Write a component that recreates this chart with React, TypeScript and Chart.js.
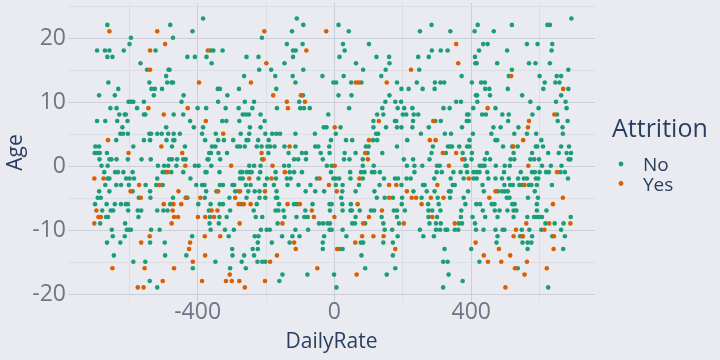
import React, { useEffect, useRef } from 'react';
import { Chart, registerables } from 'chart.js';

Chart.register(...registerables);

// ---- data (DailyRate centred, Age centred) ----
const attritionNo: [number, number][] = [
  [-664,22.08],[-595,20.08],[-472,20.08],[-599,19.08],[-694,18.08],[-671,18.08],[-658,18.08],[-616,18.08],[-523,18.08],[-664,17.08],[-649,17.08],[-567,16.08],[-548,15.08],[-485,15.08],[-482,15.08],[-492,14.08],[-661,13.08],[-541,13.08],[-489,13.08],[-476,13.08],[-472,13.08],[-632,12.08],[-535,12.08],[-525,12.08],[-504,12.08],[-688,11.08],[-642,11.08],[-528,11.08],[-602,10.08],[-595,10.08],[-588,10.08],[-557,10.08],[-447,10.08],[-655,9.08],[-637,9.08],[-577,9.08],[-629,8.08],[-613,8.08],[-610,8.08],[-557,8.08],[-553,8.08],[-470,8.08],[-694,7.08],[-670,7.08],[-635,7.08],[-605,7.08],[-492,6.08],[-620,6.08],[-626,5.08],[-618,5.08],[-604,5.08],[-541,5.08],[-536,5.08],[-518,5.08],[-505,5.08],[-486,5.08],[-470,5.08],[-452,5.08],[-638,4.08],[-557,4.08],[-539,4.08],[-491,4.08],[-471,4.08],[-468,4.08],[-699,3.08],[-688,3.08],[-588,3.08],[-475,3.08],[-480,22.08],
  [-384,23.08],[-415,21.08],[-212,20.08],[-362,18.08],[-354,18.08],[-327,18.08],[-430,17.08],[-408,17.08],[-374,17.08],[-257,17.08],[-222,17.08],[-359,16.08],[-146,16.08],[-220,15.08],[-185,15.08],[-264,14.08],[-173,14.08],[-341,12.08],[-335,12.08],[-279,12.08],[-170,12.08],[-441,11.08],[-313,11.08],[-340,10.08],[-262,10.08],[-235,10.08],[-400,9.08],[-375,9.08],[-318,9.08],[-280,9.08],[-240,9.08],[-168,9.08],[-442,8.08],[-268,8.08],[-259,8.08],[-250,8.08],[-216,8.08],[-422,7.08],[-328,7.08],[-316,7.08],[-278,7.08],[-204,7.08],[-411,6.08],[-384,6.08],[-247,6.08],[-216,6.08],[-387,5.08],[-347,5.08],[-274,5.08],[-249,5.08],[-202,5.08],[-182,5.08],[-170,5.08],[-159,5.08],[-378,4.08],[-340,4.08],[-323,4.08],[-296,4.08],[-257,4.08],[-252,4.08],[-223,4.08],[-192,4.08],[-437,3.08],[-358,3.08],[-348,3.08],[-284,3.08],[-276,3.08],[-262,3.08],[-227,3.08],[-213,3.08],[-196,3.08],[-188,3.08],[-175,3.08],[-146,3.08],
  [-110,23.08],[-91,22.08],[12,22.08],[-124,21.08],[42,21.08],[-139,19.08],[-93,19.08],[25,19.08],[101,19.08],[-121,18.08],[-113,18.08],[30,18.08],[-121,17.08],[15,17.08],[123,17.08],[160,17.08],[63,16.08],[161,16.08],[-91,15.08],[84,15.08],[150,15.08],[-122,14.08],[-35,14.08],[27,14.08],[137,14.08],[-114,13.08],[-3,13.08],[5,13.08],[49,13.08],[79,13.08],[-92,11.08],[12,11.08],[50,11.08],[161,11.08],[-103,10.08],[149,10.08],[-100,9.08],[-89,9.08],[-72,9.08],[43,9.08],[140,9.08],[-18,8.08],[125,8.08],[143,8.08],[114,7.08],[-31,6.08],[-23,6.08],[18,6.08],[114,6.08],[151,6.08],[-114,5.08],[-57,5.08],[4,5.08],[122,5.08],[128,5.08],[-10,4.08],[34,4.08],[52,4.08],[113,4.08],[125,4.08],[-114,3.08],[-56,3.08],[-47,3.08],[-15,3.08],[92,3.08],[100,3.08],
  [284,22.08],[419,22.08],[250,21.08],[339,21.08],[410,21.08],[435,19.08],[448,19.08],[285,18.08],[311,18.08],[331,18.08],[423,18.08],[245,17.08],[276,17.08],[411,17.08],[412,16.08],[416,16.08],[248,15.08],[372,14.08],[183,13.08],[241,13.08],[294,13.08],[310,13.08],[321,13.08],[402,13.08],[429,13.08],[440,13.08],[196,12.08],[217,12.08],[258,12.08],[293,12.08],[441,12.08],[453,12.08],[414,11.08],[417,11.08],[455,11.08],[178,10.08],[195,10.08],[356,10.08],[370,10.08],[418,10.08],[185,9.08],[204,9.08],[228,9.08],[319,9.08],[337,9.08],[406,9.08],[200,8.08],[210,8.08],[232,8.08],[245,8.08],[388,8.08],[392,8.08],[432,8.08],[443,8.08],[177,7.08],[181,7.08],[230,7.08],[295,7.08],[311,7.08],[387,7.08],[393,7.08],[183,6.08],[196,6.08],[228,6.08],[276,6.08],[373,6.08],[465,6.08],[253,5.08],[323,5.08],[341,5.08],[405,5.08],[459,5.08],[213,4.08],[395,4.08],[183,3.08],[288,3.08],[332,3.08],[338,3.08],[344,3.08],[365,3.08],[388,3.08],[395,3.08],
  [693,23.08],[519,22.08],[623,22.08],[630,22.08],[466,21.08],[563,19.08],[594,19.08],[637,19.08],[505,18.08],[635,18.08],[476,16.08],[569,16.08],[588,16.08],[630,16.08],[519,15.08],[684,15.08],[510,14.08],[600,14.08],[650,14.08],[663,14.08],[615,13.08],[646,13.08],[658,13.08],[507,12.08],[611,12.08],[684,12.08],[549,11.08],[663,11.08],[573,10.08],[648,10.08],[676,10.08],[471,9.08],[597,9.08],[679,9.08],[491,8.08],[510,8.08],[579,8.08],[651,8.08],[508,7.08],[653,7.08],[682,7.08],[486,6.08],[538,6.08],[667,6.08],[526,5.08],[563,5.08],[590,5.08],[668,5.08],[471,4.08],[476,4.08],[605,4.08],[493,3.08],[520,3.08],[536,3.08],[589,3.08],[593,3.08],[610,3.08],[663,3.08],[686,3.08],
  [-701,2.08],[-694,2.08],[-686,2.08],[-665,2.08],[-687,1.08],[-658,1.08],[-652,1.08],[-637,1.08],[-604,1.08],[-564,1.08],[-537,1.08],[-483,1.08],[-475,1.08],[-460,1.08],[-681,0.08],[-663,0.08],[-516,0.08],[-498,0.08],[-486,0.08],[-462,0.08],[-673,-0.92],[-641,-0.92],[-633,-0.92],[-617,-0.92],[-590,-0.92],[-502,-0.92],[-494,-0.92],[-477,-0.92],[-663,-1.92],[-658,-1.92],[-609,-1.92],[-599,-1.92],[-586,-1.92],[-518,-1.92],[-670,-2.92],[-638,-2.92],[-624,-2.92],[-601,-2.92],[-552,-2.92],[-521,-2.92],[-502,-2.92],[-688,-3.92],[-658,-3.92],[-590,-3.92],[-539,-3.92],[-692,-4.92],[-683,-4.92],[-572,-4.92],[-538,-4.92],[-472,-4.92],[-700,-5.92],[-666,-5.92],[-642,-5.92],[-624,-5.92],[-610,-5.92],[-604,-5.92],[-480,-5.92],[-679,-6.92],[-654,-6.92],[-647,-6.92],[-603,-6.92],[-575,-6.92],[-565,-6.92],[-518,-6.92],[-500,-6.92],[-488,-6.92],[-668,-7.92],[-662,-7.92],[-573,-7.92],[-685,-8.92],[-612,-8.92],[-651,-9.92],[-607,-9.92],[-601,-9.92],[-595,-9.92],[-536,-9.92],[-511,-9.92],[-648,-10.92],[-613,-10.92],[-665,-11.92],[-626,-11.92],[-539,-11.92],[-496,-11.92],[-645,-13.92],[-495,-13.92],[-588,-14.92],[-553,-14.92],[-540,-17.92],[-518,-18.92],
  [-366,2.08],[-361,2.08],[-339,2.08],[-314,2.08],[-193,2.08],[-442,1.08],[-435,1.08],[-371,1.08],[-368,1.08],[-334,1.08],[-211,1.08],[-408,0.08],[-397,0.08],[-360,0.08],[-249,0.08],[-235,0.08],[-216,0.08],[-147,0.08],[-442,-0.92],[-377,-0.92],[-374,-0.92],[-336,-0.92],[-275,-0.92],[-269,-0.92],[-256,-0.92],[-248,-0.92],[-242,-0.92],[-217,-0.92],[-172,-0.92],[-421,-1.92],[-276,-1.92],[-268,-1.92],[-222,-1.92],[-197,-1.92],[-171,-1.92],[-404,-2.92],[-387,-2.92],[-380,-2.92],[-335,-2.92],[-326,-2.92],[-298,-2.92],[-293,-2.92],[-259,-2.92],[-245,-2.92],[-203,-2.92],[-177,-2.92],[-375,-3.92],[-345,-3.92],[-290,-3.92],[-279,-3.92],[-252,-3.92],[-233,-3.92],[-219,-3.92],[-169,-3.92],[-435,-4.92],[-430,-4.92],[-379,-4.92],[-307,-4.92],[-257,-4.92],[-219,-4.92],[-202,-4.92],[-171,-4.92],[-167,-4.92],[-398,-5.92],[-362,-5.92],[-335,-5.92],[-326,-5.92],[-272,-5.92],[-227,-5.92],[-162,-5.92],[-367,-6.92],[-305,-6.92],[-236,-6.92],[-172,-6.92],[-164,-6.92],[-149,-6.92],[-364,-7.92],[-336,-7.92],[-315,-7.92],[-230,-7.92],[-211,-7.92],[-146,-7.92],[-365,-8.92],[-338,-8.92],[-166,-8.92],[-362,-9.92],[-320,-9.92],[-294,-9.92],[-215,-9.92],[-198,-9.92],[-189,-9.92],[-416,-10.92],[-309,-10.92],[-233,-10.92],[-222,-10.92],[-153,-10.92],[-224,-11.92],[-183,-11.92],[-299,-12.92],[-239,-12.92],[-224,-12.92],[-433,-13.92],[-298,-13.92],[-264,-13.92],[-235,-13.92],[-348,-14.92],[-271,-14.92],[-225,-14.92],[-211,-14.92],[-202,-14.92],[-414,-15.92],[-305,-15.92],[-259,-15.92],[-152,-16.92],[-161,-17.92],
  [-134,2.08],[-95,2.08],[-83,2.08],[-40,2.08],[-14,2.08],[30,2.08],[62,2.08],[97,2.08],[140,2.08],[-118,1.08],[-106,1.08],[-83,1.08],[-34,1.08],[28,1.08],[44,1.08],[83,1.08],[-133,0.08],[-22,0.08],[-8,0.08],[83,0.08],[115,0.08],[-131,-0.92],[-118,-0.92],[-95,-0.92],[-10,-0.92],[46,-0.92],[78,-0.92],[88,-0.92],[110,-0.92],[117,-0.92],[133,-0.92],[-139,-1.92],[-128,-1.92],[-51,-1.92],[-3,-1.92],[4,-1.92],[14,-1.92],[47,-1.92],[83,-1.92],[145,-1.92],[-137,-2.92],[-105,-2.92],[-70,-2.92],[4,-2.92],[24,-2.92],[72,-2.92],[132,-2.92],[-84,-3.92],[-56,-3.92],[-30,-3.92],[23,-3.92],[62,-3.92],[117,-3.92],[20,-4.92],[124,-4.92],[147,-4.92],[-118,-5.92],[-110,-5.92],[-64,-5.92],[-14,-5.92],[-8,-5.92],[23,-5.92],[48,-5.92],[-85,-6.92],[-13,-6.92],[24,-6.92],[47,-6.92],[51,-6.92],[74,-6.92],[107,-6.92],[116,-6.92],[-111,-7.92],[-88,-7.92],[-78,-7.92],[62,-7.92],[138,-7.92],[-45,-8.92],[-33,-8.92],[-20,-8.92],[-13,-8.92],[52,-8.92],[60,-8.92],[90,-8.92],[143,-8.92],[-114,-9.92],[-77,-9.92],[-14,-9.92],[-8,-9.92],[24,-9.92],[147,-9.92],[-123,-10.92],[-102,-10.92],[-30,-10.92],[35,-10.92],[-131,-11.92],[-34,-11.92],[77,-11.92],[84,-11.92],[143,-11.92],[-34,-12.92],[16,-12.92],[24,-12.92],[79,-13.92],[90,-15.92],[-79,-16.92],[-1,-16.92],[153,-16.92],[6,-18.92],
  [284,2.08],[326,2.08],[375,2.08],[402,2.08],[446,2.08],[203,1.08],[230,1.08],[278,1.08],[381,1.08],[401,1.08],[440,1.08],[455,1.08],[212,0.08],[234,0.08],[257,0.08],[300,0.08],[308,0.08],[383,0.08],[387,0.08],[425,0.08],[432,0.08],[439,0.08],[234,-0.92],[299,-0.92],[314,-0.92],[348,-0.92],[369,-0.92],[388,-0.92],[407,-0.92],[416,-0.92],[424,-0.92],[447,-0.92],[177,-1.92],[186,-1.92],[211,-1.92],[223,-1.92],[292,-1.92],[340,-1.92],[378,-1.92],[407,-1.92],[416,-1.92],[450,-1.92],[196,-2.92],[259,-2.92],[264,-2.92],[346,-2.92],[352,-2.92],[433,-2.92],[231,-3.92],[270,-3.92],[293,-3.92],[335,-3.92],[340,-3.92],[391,-3.92],[437,-3.92],[171,-4.92],[198,-4.92],[255,-4.92],[302,-4.92],[338,-4.92],[378,-4.92],[197,-5.92],[274,-5.92],[305,-5.92],[383,-5.92],[415,-5.92],[426,-5.92],[460,-5.92],[174,-6.92],[183,-6.92],[206,-6.92],[275,-6.92],[286,-6.92],[310,-6.92],[371,-6.92],[434,-6.92],[183,-7.92],[275,-7.92],[300,-7.92],[370,-7.92],[404,-7.92],[441,-7.92],[189,-8.92],[278,-8.92],[297,-8.92],[311,-8.92],[364,-8.92],[373,-8.92],[411,-8.92],[169,-9.92],[250,-9.92],[297,-9.92],[309,-9.92],[325,-9.92],[330,-9.92],[352,-9.92],[362,-9.92],[414,-9.92],[436,-9.92],[185,-10.92],[260,-10.92],[291,-10.92],[171,-11.92],[322,-12.92],[400,-12.92],[171,-13.92],[318,-14.92],[331,-14.92],[424,-14.92],[178,-15.92],[334,-16.92],[375,-17.92],[318,-18.92],
  [524,2.08],[578,2.08],[625,2.08],[656,2.08],[679,2.08],[692,2.08],[515,1.08],[526,1.08],[573,1.08],[584,1.08],[598,1.08],[685,1.08],[690,1.08],[472,0.08],[498,0.08],[513,0.08],[607,0.08],[633,0.08],[664,0.08],[496,-0.92],[545,-0.92],[578,-0.92],[586,-0.92],[600,-0.92],[619,-0.92],[627,-0.92],[661,-0.92],[674,-0.92],[471,-1.92],[490,-1.92],[510,-1.92],[537,-1.92],[554,-1.92],[563,-1.92],[589,-1.92],[596,-1.92],[683,-1.92],[497,-2.92],[514,-2.92],[522,-2.92],[541,-2.92],[549,-2.92],[569,-2.92],[576,-2.92],[592,-2.92],[636,-2.92],[478,-3.92],[490,-3.92],[498,-3.92],[507,-3.92],[586,-3.92],[504,-4.92],[512,-4.92],[566,-4.92],[595,-4.92],[468,-5.92],[520,-5.92],[527,-5.92],[592,-5.92],[469,-6.92],[483,-6.92],[506,-6.92],[524,-6.92],[532,-6.92],[592,-6.92],[620,-6.92],[477,-7.92],[524,-7.92],[564,-7.92],[584,-7.92],[592,-7.92],[599,-7.92],[607,-7.92],[691,-7.92],[617,-8.92],[644,-8.92],[670,-8.92],[471,-9.92],[492,-9.92],[497,-9.92],[548,-9.92],[570,-9.92],[605,-9.92],[663,-9.92],[477,-10.92],[543,-10.92],[551,-10.92],[578,-10.92],[637,-10.92],[674,-10.92],[474,-11.92],[550,-11.92],[565,-11.92],[576,-11.92],[565,-12.92],[669,-12.92],[536,-15.92],[625,-18.92],
];

const attritionYes: [number, number][] = [
  [-658,21.08],[-518,21.08],[-495,19.08],[-539,18.08],[-539,15.08],[-544,9.08],[-499,8.08],[-662,4.08],[-506,3.08],
  [-205,21.08],[-370,18.08],[-199,16.08],[-396,13.08],[-244,13.08],[-179,11.08],[-429,9.08],[-376,7.08],[-325,5.08],
  [-24,21.08],[-82,18.08],[63,13.08],[71,13.08],[153,13.08],[-98,11.08],[-139,10.08],[-86,10.08],[-136,9.08],[130,7.08],[1,6.08],[101,4.08],[-131,3.08],
  [356,19.08],[362,16.08],[224,15.08],[448,9.08],[289,7.08],[279,4.08],[296,4.08],
  [517,14.08],[669,12.08],[643,8.08],[569,7.08],[566,6.08],[552,4.08],[523,3.08],
  [-602,2.08],[-488,-0.92],[-702,-1.92],[-675,-1.92],[-571,-2.92],[-511,-2.92],[-596,-3.92],[-456,-3.92],[-566,-4.92],[-499,-5.92],[-471,-5.92],[-448,-5.92],[-696,-6.92],[-473,-6.92],[-690,-7.92],[-683,-7.92],[-469,-7.92],[-457,-7.92],[-702,-8.92],[-476,-8.92],[-540,-10.92],[-565,-11.92],[-649,-15.92],[-555,-15.92],[-469,-15.92],[-502,-17.92],[-575,-18.92],[-558,-18.92],
  [-445,2.08],[-213,2.08],[-207,1.08],[-436,0.08],[-302,0.08],[-181,0.08],[-145,-0.92],[-249,-1.92],[-184,-1.92],[-340,-3.92],[-276,-3.92],[-203,-3.92],[-433,-4.92],[-392,-4.92],[-290,-4.92],[-280,-5.92],[-265,-5.92],[-245,-5.92],[-359,-6.92],[-342,-6.92],[-399,-7.92],[-378,-7.92],[-352,-7.92],[-277,-8.92],[-152,-8.92],[-379,-10.92],[-334,-10.92],[-422,-11.92],[-425,-12.92],[-378,-13.92],[-168,-13.92],[-414,-14.92],[-188,-14.92],[-306,-16.92],[-387,-17.92],[-317,-17.92],[-300,-17.92],[-278,-17.92],[-203,-17.92],[-262,-18.92],
  [90,2.08],[98,1.08],[1,0.08],[-43,-1.92],[73,-1.92],[-16,-2.92],[160,-2.92],[7,-3.92],[160,-4.92],[-137,-5.92],[-101,-5.92],[68,-5.92],[-66,-6.92],[139,-6.92],[-60,-7.92],[0,-7.92],[101,-7.92],[84,-8.92],[81,-10.92],[114,-10.92],[144,-10.92],[-118,-11.92],[61,-11.92],[-113,-12.92],[8,-12.92],[-50,-15.92],[65,-16.92],
  [317,2.08],[356,2.08],[374,1.08],[335,0.08],[393,-1.92],[181,-2.92],[301,-2.92],[212,-3.92],[226,-4.92],[239,-4.92],[282,-4.92],[319,-4.92],[453,-4.92],[255,-5.92],[286,-7.92],[203,-8.92],[352,-8.92],[413,-11.92],[178,-12.92],[437,-13.92],[449,-14.92],
  [567,0.08],[651,-0.92],[556,-2.92],[471,-3.92],[668,-4.92],[639,-5.92],[561,-8.92],[628,-8.92],[690,-8.92],[531,-9.92],[614,-9.92],[524,-10.92],[550,-10.92],[642,-10.92],[481,-12.92],[641,-12.92],[514,-13.92],[488,-14.92],[563,-14.92],[528,-15.92],[621,-15.92],[556,-16.92],[500,-18.92],
];

const seriesNames = ['No', 'Yes'];
const legendTitle = 'Attrition';
const xTitle = 'DailyRate';
const yTitle = 'Age';

const BG = '#EAEBF0';
const GRID_MAJOR = '#CDCFD6';
const GRID_MINOR = '#DCDEE3';
const TICK = '#6E7686';
const NAVY = '#2A3F5F';
const TEAL = '#1B9E77';
const ORANGE = '#D95F02';
const FONT = '"Open Sans", "Noto Sans", sans-serif';

const legendPlugin = {
  id: 'attritionLegend',
  afterDraw(chart: any) {
    const ctx = chart.ctx;
    ctx.save();
    ctx.textAlign = 'left';
    ctx.textBaseline = 'alphabetic';
    ctx.fillStyle = NAVY;
    ctx.font = `25px ${FONT}`;
    ctx.fillText(legendTitle, 612, 137);
    const rows = [164, 183.5];
    chart.data.datasets.forEach((ds: any, i: number) => {
      const cy = rows[i];
      ctx.beginPath();
      ctx.fillStyle = ds.backgroundColor;
      ctx.arc(621, cy, 2.4, 0, Math.PI * 2);
      ctx.fill();
      ctx.fillStyle = NAVY;
      ctx.font = `19px ${FONT}`;
      ctx.fillText(ds.label, 643, cy + 7);
    });
    ctx.restore();
  },
};

export default function App() {
  const ref = useRef<HTMLCanvasElement | null>(null);

  useEffect(() => {
    document.body.style.margin = '0';
    document.body.style.background = BG;
    const canvas = ref.current;
    if (!canvas) return;
    const chart = new Chart(canvas, {
      type: 'scatter',
      data: {
        datasets: [
          {
            label: seriesNames[0],
            data: attritionNo.map(([x, y]) => ({ x, y })),
            backgroundColor: TEAL,
            borderWidth: 0,
            pointRadius: 2.3,
            pointHoverRadius: 2.3,
            order: 2,
          },
          {
            label: seriesNames[1],
            data: attritionYes.map(([x, y]) => ({ x, y })),
            backgroundColor: ORANGE,
            borderWidth: 0,
            pointRadius: 2.3,
            pointHoverRadius: 2.3,
            order: 1,
          },
        ],
      },
      options: {
        responsive: false,
        animation: false,
        devicePixelRatio: 1,
        layout: { padding: { top: 3, right: 125, bottom: 0, left: 0 } },
        plugins: {
          legend: { display: false },
          tooltip: { enabled: false },
        },
        scales: {
          x: {
            type: 'linear',
            min: -779,
            max: 762,
            border: { display: false },
            grid: {
              drawTicks: false,
              color: (c: any) => (c.tick && Math.abs(c.tick.value % 400) === 0 ? GRID_MAJOR : GRID_MINOR),
            },
            ticks: {
              stepSize: 200,
              includeBounds: false,
              autoSkip: false,
              maxRotation: 0,
              padding: -3,
              color: TICK,
              font: { family: FONT, size: 23 },
              callback: (v: any) => (Math.abs(Number(v) % 400) === 0 ? String(v) : ''),
            },
            title: {
              display: true,
              text: xTitle,
              color: NAVY,
              font: { family: FONT, size: 21 },
              padding: { top: 0, bottom: 5 },
            },
            afterFit: (s: any) => { s.height = 58; s.paddingLeft = 0; s.paddingRight = 0; },
          },
          y: {
            type: 'linear',
            min: -21.2,
            max: 25.5,
            border: { display: false },
            grid: {
              drawTicks: false,
              color: (c: any) => (c.tick && Math.abs(c.tick.value % 10) === 0 ? GRID_MAJOR : GRID_MINOR),
            },
            ticks: {
              stepSize: 5,
              includeBounds: false,
              autoSkip: false,
              padding: 2,
              color: TICK,
              font: { family: FONT, size: 23 },
              callback: (v: any) => (Math.abs(Number(v) % 10) === 0 ? String(v) : ''),
            },
            title: {
              display: true,
              text: yTitle,
              color: NAVY,
              font: { family: FONT, size: 21 },
              padding: { top: 3, bottom: 0 },
            },
            afterFit: (s: any) => { s.width = 68; s.paddingTop = 0; s.paddingBottom = 0; },
          },
        },
      },
      plugins: [legendPlugin],
    });
    if ((document as any).fonts && (document as any).fonts.load) {
      Promise.all([
        (document as any).fonts.load(`23px "Open Sans"`),
        (document as any).fonts.load(`25px "Open Sans"`),
      ]).then(() => chart.update()).catch(() => {});
    }
    return () => chart.destroy();
  }, []);

  return (
    <div style={{ position: 'fixed', left: 0, top: 0, width: 720, height: 360, background: BG }}>
      <canvas ref={ref} width={720} height={360} style={{ display: 'block', width: 720, height: 360 }} />
    </div>
  );
}
